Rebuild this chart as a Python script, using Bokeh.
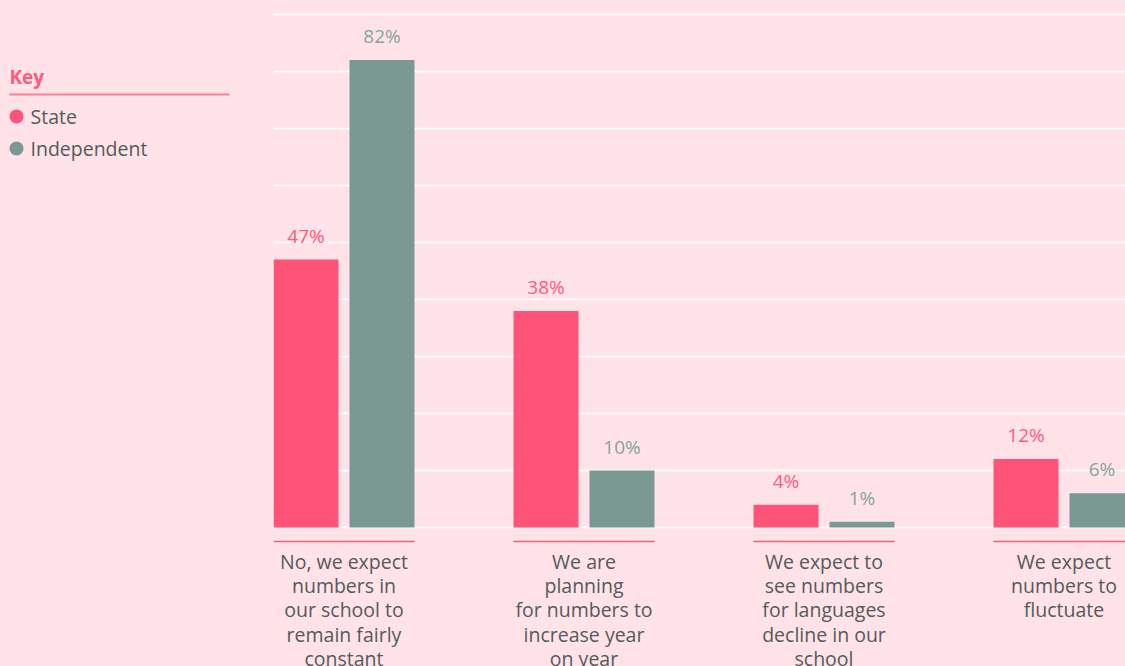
from bokeh.plotting import figure
from bokeh.layouts import row
from bokeh.models import Range1d, FixedTicker, ColumnDataSource
from bokeh.core.properties import value
from bokeh.embed import file_html
from bokeh.resources import INLINE
import numpy as np

categories = [
    "No, we expect\nnumbers in\nour school to\nremain fairly\nconstant",
    "We are\nplanning\nfor numbers to\nincrease year\non year",
    "We expect to\nsee numbers\nfor languages\ndecline in our\nschool",
    "We expect\nnumbers to\nfluctuate",
]
state = [47, 38, 4, 12]
independent = [82, 10, 1, 6]
series_names = ["State", "Independent"]
grid_ticks = [0, 10, 20, 30, 40, 50, 60, 70, 80, 90]

BG = "#ffe3e8"
PINK = "#ff5477"
GREEN = "#7a9992"
PINK_TXT = "#ff5a7d"
GREEN_TXT = "#86a39c"
TEXT = "#555a5a"
FONT = value("Open Sans")

H = 666
PX_PER = 5.7           # pixels per percentage point
GROUP_PX = 240.0       # pixels between group centres
LEFT_W = 273
FRAME_W = 852
BASE_Y = 527           # baseline position from figure top

# ---------------- legend panel ----------------
leg = figure(width=LEFT_W, height=H, output_backend="svg", toolbar_location=None,
             x_range=Range1d(0, LEFT_W), y_range=Range1d(H, 0), min_border=0)
leg.axis.visible = False
leg.grid.visible = False
leg.outline_line_color = None
leg.background_fill_color = BG
leg.border_fill_color = BG

leg.text(x=[9], y=[76], text=["Key"], text_font=FONT, text_font_size="19px",
         text_font_style="bold", text_color=PINK_TXT, text_baseline="middle")
leg.segment(x0=[9], x1=[229], y0=[94], y1=[94], line_color="#ff7d95", line_width=2)
leg.scatter(x=[16, 16], y=[116, 148], size=14, marker="circle",
            fill_color=[PINK, GREEN], line_color=None)
leg.text(x=[30, 30], y=[116, 148], text=series_names, text_font=FONT,
         text_font_size="19.5px", text_color=TEXT, text_baseline="middle")

# ---------------- chart ----------------
idx = np.arange(len(categories))
y_start = -(H - BASE_Y) / PX_PER
y_end = BASE_Y / PX_PER
x_start = -70.5 / GROUP_PX
x_end = (FRAME_W - 70.5) / GROUP_PX

p = figure(width=FRAME_W, height=H, output_backend="svg", toolbar_location=None,
           x_range=Range1d(x_start, x_end), y_range=Range1d(y_start, y_end),
           min_border=0)
p.background_fill_color = BG
p.border_fill_color = BG
p.outline_line_color = None
p.xaxis.visible = False
p.yaxis.visible = False
p.xgrid.visible = False
p.yaxis.ticker = FixedTicker(ticks=grid_ticks)
p.ygrid.ticker = FixedTicker(ticks=grid_ticks)
p.ygrid.grid_line_color = "white"
p.ygrid.grid_line_width = 1.5

off = 38 / GROUP_PX
bw = 65 / GROUP_PX
pad = 24 / PX_PER

src = ColumnDataSource(dict(xs=idx - off, xi=idx + off, state=state, ind=independent,
                            ls=[f"{v}%" for v in state], li=[f"{v}%" for v in independent],
                            ys=np.array(state) + pad,
                            yi=np.array(independent) + pad))
p.vbar(x="xs", top="state", width=bw, bottom=0, source=src, fill_color=PINK, line_color=None)
p.vbar(x="xi", top="ind", width=bw, bottom=0, source=src, fill_color=GREEN, line_color=None)

p.text(x="xs", y="ys", text="ls", source=src, text_font=FONT, text_font_size="19px",
       text_color=PINK_TXT, text_align="center", text_baseline="middle")
p.text(x="xi", y="yi", text="li", source=src, text_font=FONT, text_font_size="19px",
       text_color=GREEN_TXT, text_align="center", text_baseline="middle")

# group separator lines and category labels
half = 70.5 / GROUP_PX
p.segment(x0=idx - half, x1=idx + half, y0=-14 / PX_PER, y1=-14 / PX_PER,
          line_color="#f2607e", line_width=1.5)
p.text(x=idx, y=[-20 / PX_PER] * len(categories), text=categories, text_font=FONT,
       text_font_size="19.5px", text_color=TEXT, text_align="center",
       text_baseline="top", text_line_height=0.907)

layout = row(leg, p, spacing=0)
layout.styles = {"background-color": BG}
open("out.html", "w").write(file_html(layout, INLINE))
